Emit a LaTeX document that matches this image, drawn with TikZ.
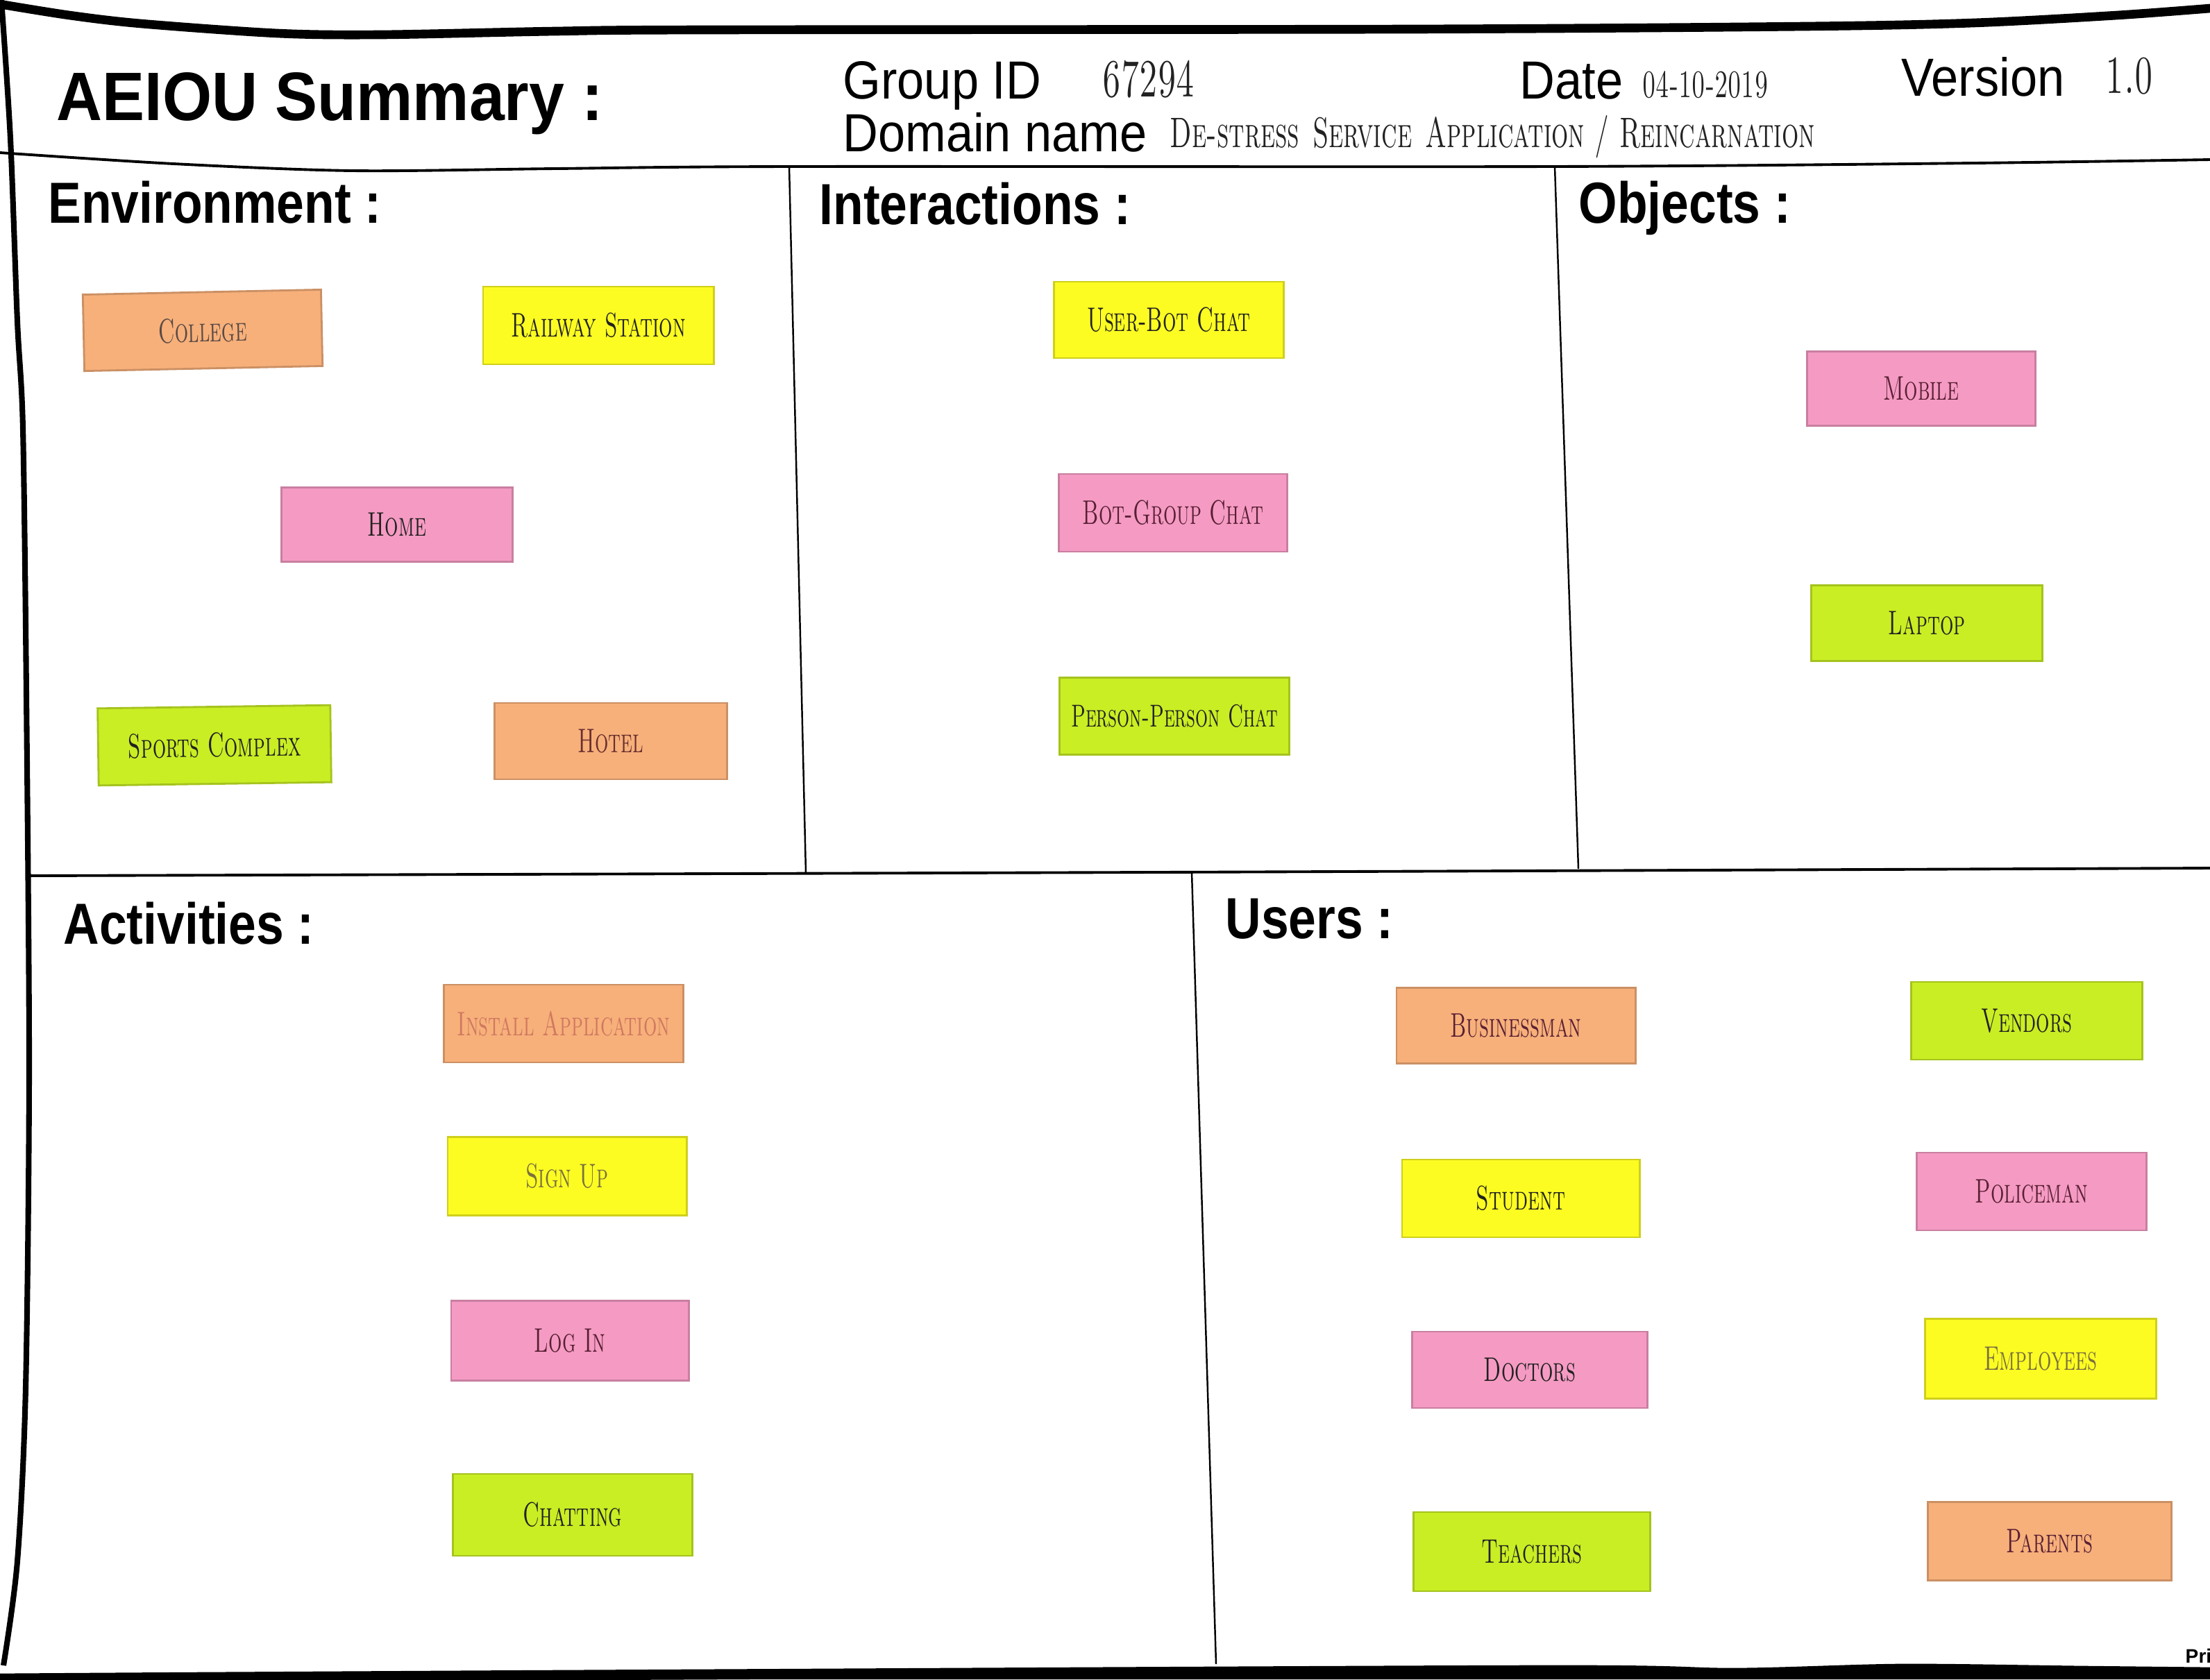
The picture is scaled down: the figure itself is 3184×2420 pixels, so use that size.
\documentclass[tikz,border=0pt]{standalone}
\usepackage{fontspec}
\usepackage{graphicx}
\newfontfamily\arialfont{Liberation Sans}
\definecolor{noteorange}{HTML}{F7B07A}
\definecolor{noteyellow}{HTML}{FCFC22}
\definecolor{notepink}{HTML}{F59BC3}
\definecolor{notegreen}{HTML}{C9EE24}
\definecolor{ink}{HTML}{222222}
\definecolor{inkgray}{HTML}{5A4A45}
\definecolor{inkred}{HTML}{6A3030}
\definecolor{inkfaint}{HTML}{D07860}
\definecolor{inkolive}{HTML}{7A7040}
\definecolor{inkmaroon}{HTML}{5A2035}
\newcommand{\hw}[2][14]{\scalebox{0.62}[1]{\fontsize{#1}{#1}\selectfont\scshape #2}}
\newcommand{\tallA}[2]{\scalebox{1}[#1]{#2}}
\tikzset{
  note/.style={draw=#1!82!black, fill=#1, line width=0.8pt, inner sep=0pt, text=ink},
  title/.style={anchor=base west, inner sep=0pt, font=\arialfont\bfseries\fontsize{26}{26}\selectfont},
  heading/.style={anchor=base west, inner sep=0pt, font=\arialfont\bfseries\fontsize{20.3}{20.3}\selectfont},
  label/.style={anchor=base west, inner sep=0pt, font=\arialfont\fontsize{20}{20}\selectfont},
  value/.style={inner sep=0pt, text=ink},
  border/.style={line width=3.6pt, line cap=round, line join=round},
  rule/.style={line width=1.1pt},
  thin/.style={line width=0.7pt}
}
\begin{document}
\begin{tikzpicture}[x=0.01cm,y=-0.01cm]
\useasboundingbox (0,0) rectangle (3184,2420);
\fill[white] (0,0) rectangle (3184,2420);

% frame lines
\draw[border] plot[smooth] coordinates {(0,6) (100,22) (203,34) (400,48) (548,50) (800,45) (1015,43) (2030,42) (2600,38) (2843,33) (3050,22) (3184,12)};
\draw[line width=2.3pt] plot[smooth] coordinates {(2,0) (15,200) (25,463) (33,617) (38,1000) (42,1540) (37,2000) (25,2250) (5,2400)};
\draw[rule] plot[smooth] coordinates {(0,220) (250,236) (508,246) (800,243) (1137,240) (2234,240) (2843,235) (3184,230)};
\draw[rule] plot[smooth] coordinates {(40,1262) (1660,1257) (3184,1251)};
\draw[line width=4.2pt] plot[smooth] coordinates {(0,2419) (300,2417) (1000,2413) (2234,2407) (2500,2411) (2741,2405) (3000,2408) (3184,2410)};
\fill (0,2420) -- (0,2418) -- (3184,2410) -- (3184,2420) -- cycle;

% dividers
\coordinate (d1t) at (1137,240);
\coordinate (d1b) at (1161,1258);
\coordinate (d2t) at (2240,240);
\coordinate (d2b) at (2274,1252);
\coordinate (d3t) at (1717,1257);
\coordinate (d3b) at (1752,2398);
\draw[thin] (d1t) -- (d1b);
\draw[thin] (d2t) -- (d2b);
\draw[thin] (d3t) -- (d3b);

% header
\node[title] (aeiou) at (81,173) {\tallA{1.08}{AEIOU Summary :}};
\node[label] (groupid) at (1214,142) {\tallA{1.1}{Group ID}};
\node[label] (domain) at (1214,218) {\tallA{1.1}{Domain name}};
\node[label] (date) at (2189,142) {\tallA{1.1}{Date}};
\node[label] (version) at (2739,138) {\tallA{1.1}{Version}};
\node[value] (gidv) at (1655,114) {\hw[22]{67294}};
\node[value] (datev) at (2457,122) {\hw[16]{04-10-2019}};
\node[value] (verv) at (3068,110) {\hw[22]{1.0}};
\node[value, anchor=west] (domv) at (1685,197) {\hw[17.5]{De-stress\enspace Service\enspace Application / Reincarnation}};

% section headings
\node[heading] (env) at (69,321) {\tallA{1.17}{Environment :}};
\node[heading] (inter) at (1180,323) {\tallA{1.17}{Interactions :}};
\node[heading] (obj) at (2274,321) {\tallA{1.17}{Objects :}};
\node[heading] (act) at (91,1360) {\tallA{1.17}{Activities :}};
\node[heading] (users) at (1765,1352) {\tallA{1.17}{Users :}};

% Environment notes
\node[note=noteorange, minimum width=3.43cm, minimum height=1.10cm, rotate=1.2, text=inkgray] (college) at (292,476) {\hw{College}};
\node[note=noteyellow, minimum width=3.32cm, minimum height=1.12cm] (railway) at (862,469) {\hw{Railway Station}};
\node[note=notepink, minimum width=3.33cm, minimum height=1.07cm] (home) at (572,756) {\hw{Home}};
\node[note=notegreen, minimum width=3.35cm, minimum height=1.11cm, rotate=0.8] (sports) at (309,1074) {\hw{Sports Complex}};
\node[note=noteorange, minimum width=3.35cm, minimum height=1.10cm, text=inkred] (hotel) at (880,1068) {\hw{Hotel}};

% Interactions notes
\node[note=noteyellow, minimum width=3.31cm, minimum height=1.10cm] (userbot) at (1684,461) {\hw{User-Bot Chat}};
\node[note=notepink, minimum width=3.29cm, minimum height=1.12cm, text=inkmaroon] (botgroup) at (1690,739) {\hw{Bot-Group Chat}};
\node[note=notegreen, minimum width=3.31cm, minimum height=1.11cm] (personchat) at (1692,1032) {\hw[13]{Person-Person Chat}};

% Objects notes
\node[note=notepink, minimum width=3.29cm, minimum height=1.07cm, text=inkmaroon] (mobile) at (2768,560) {\hw{Mobile}};
\node[note=notegreen, minimum width=3.33cm, minimum height=1.09cm] (laptop) at (2776,898) {\hw{Laptop}};

% Activities notes
\node[note=noteorange, minimum width=3.45cm, minimum height=1.12cm, text=inkfaint] (install) at (812,1475) {\hw{Install Application}};
\node[note=noteyellow, minimum width=3.44cm, minimum height=1.13cm, text=inkolive] (signup) at (817,1695) {\hw{Sign Up}};
\node[note=notepink, minimum width=3.42cm, minimum height=1.15cm, text=inkmaroon] (login) at (821,1932) {\hw{Log In}};
\node[note=notegreen, minimum width=3.45cm, minimum height=1.18cm] (chatting) at (825,2183) {\hw{Chatting}};

% Users notes
\node[note=noteorange, minimum width=3.44cm, minimum height=1.09cm, text=inkmaroon] (businessman) at (2184,1478) {\hw{Businessman}};
\node[note=notegreen, minimum width=3.33cm, minimum height=1.12cm] (vendors) at (2920,1471) {\hw{Vendors}};
\node[note=noteyellow, minimum width=3.42cm, minimum height=1.12cm] (student) at (2191,1727) {\hw{Student}};
\node[note=notepink, minimum width=3.31cm, minimum height=1.12cm, text=inkmaroon] (policeman) at (2927,1717) {\hw{Policeman}};
\node[note=notepink, minimum width=3.39cm, minimum height=1.10cm] (doctors) at (2204,1974) {\hw{Doctors}};
\node[note=noteyellow, minimum width=3.33cm, minimum height=1.15cm, text=inkolive] (employees) at (2940,1958) {\hw{Employees}};
\node[note=notegreen, minimum width=3.41cm, minimum height=1.14cm] (teachers) at (2207,2236) {\hw{Teachers}};
\node[note=noteorange, minimum width=3.51cm, minimum height=1.13cm, text=inkmaroon] (parents) at (2953,2221) {\hw{Parents}};

% cut-off footer text
\node[anchor=base west, inner sep=0pt, font=\arialfont\bfseries\fontsize{8}{8}\selectfont] (pri) at (3148,2396) {Pri};
\end{tikzpicture}
\end{document}
